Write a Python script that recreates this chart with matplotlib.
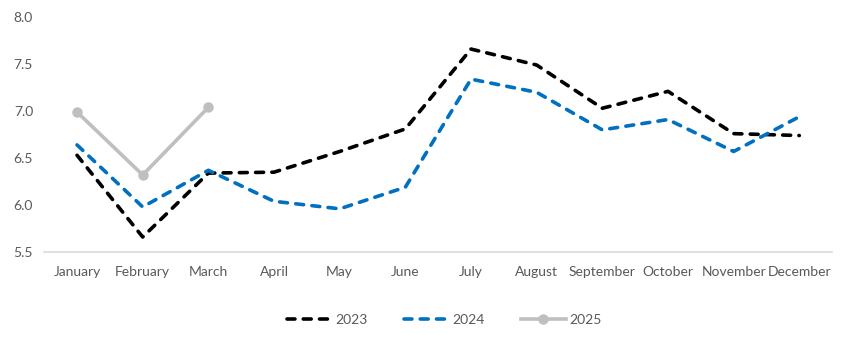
import numpy as np
import matplotlib
matplotlib.use('Agg')
from matplotlib import pyplot as plt

plt.rcParams['font.family'] = ['Lato', 'DejaVu Sans']

months = ['January', 'February', 'March', 'April', 'May', 'June', 'July',
          'August', 'September', 'October', 'November', 'December']
vals_2023 = [6.53, 5.66, 6.34, 6.35, 6.57, 6.81, 7.66, 7.49, 7.03, 7.21, 6.76, 6.74]
vals_2024 = [6.64, 5.98, 6.37, 6.04, 5.96, 6.19, 7.34, 7.20, 6.80, 6.91, 6.57, 6.94]
vals_2025 = [6.99, 6.32, 7.04]

fig = plt.figure(figsize=(8.5, 3.42), dpi=100)
ax = fig.add_axes([0.052, 0.263, 0.927, 0.687])

x = np.arange(len(months))
dash = (0, (2.2, 2.3))
ax.plot(x, vals_2023, color='black', lw=2.6, ls=dash,
        dash_capstyle='round', label='2023')
ax.plot(x, vals_2024, color='#0070C0', lw=2.6, ls=dash,
        dash_capstyle='round', label='2024')
ax.plot(x[:len(vals_2025)], vals_2025, color='#BFBFBF', lw=2.6,
        marker='o', markersize=6.5, label='2025')

ax.set_xlim(-0.5, len(months) - 0.5)
ax.set_ylim(5.5, 8.0)
ax.set_yticks(np.arange(5.5, 8.01, 0.5))
ax.set_yticklabels(['{:.1f}'.format(v) for v in np.arange(5.5, 8.01, 0.5)])
ax.set_xticks(x)
ax.set_xticklabels(months)

for s in ['top', 'right', 'left']:
    ax.spines[s].set_visible(False)
ax.spines['bottom'].set_color('#D9D9D9')
ax.spines['bottom'].set_linewidth(1.2)
ax.tick_params(axis='both', length=0, labelsize=10, colors='#595959')
ax.tick_params(axis='x', pad=10)
ax.tick_params(axis='y', pad=8)

leg = fig.legend(loc='center', bbox_to_anchor=(0.523, 0.065), ncol=3, frameon=False,
                 fontsize=10, handlelength=3.2, columnspacing=2.6, handletextpad=0.3)
for t in leg.get_texts():
    t.set_color('#595959')

fig.savefig('out.png', dpi=100)
